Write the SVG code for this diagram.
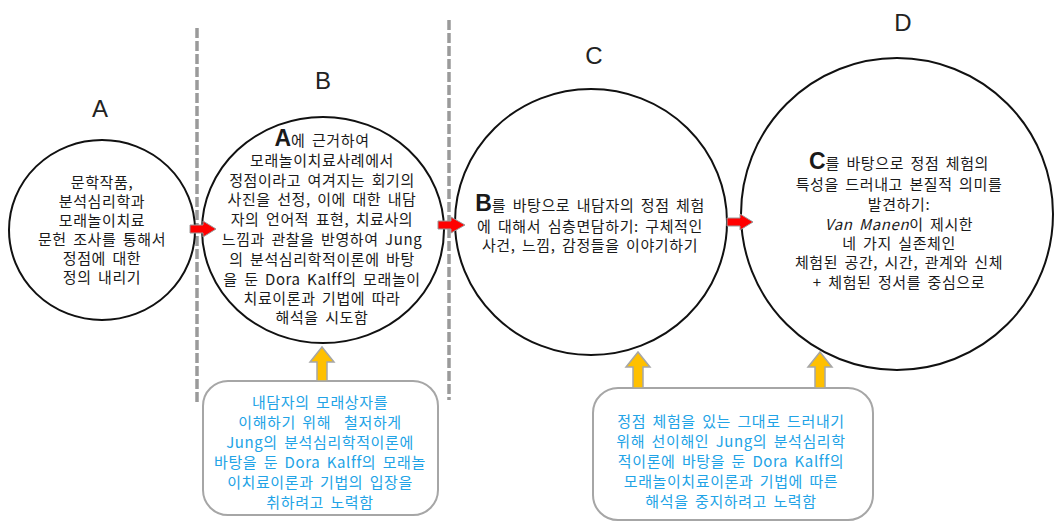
<svg xmlns="http://www.w3.org/2000/svg" width="1060" height="524" viewBox="0 0 1060 524">
<style>
.circ{fill:#fff;stroke:#111;stroke-width:2}
.t{font-family:"Noto Sans CJK KR","Liberation Sans",sans-serif;font-size:15px;letter-spacing:0.6px;word-spacing:2.5px;fill:#1a1a1a;text-anchor:middle}
.big{font-family:"Liberation Sans","Noto Sans CJK KR",sans-serif;font-size:23px;font-weight:bold;letter-spacing:0}
.lbl{font-family:"Liberation Sans Narrow","Liberation Sans",sans-serif;font-size:24px;fill:#222;text-anchor:middle}
.bt{font-family:"Noto Sans CJK KR","Liberation Sans",sans-serif;font-size:15px;letter-spacing:0.6px;word-spacing:2.5px;fill:#22a3e6;text-anchor:middle}
.box{fill:#fff;stroke:#a6a6a6;stroke-width:2}
.dash{stroke:#9a9a9a;stroke-width:3.5;stroke-dasharray:10 3;fill:none}
.red{fill:#ff0000;stroke:#9a9a9a;stroke-width:1}
.yel{fill:#ffc000;stroke:#a6a6a6;stroke-width:1.5}
</style>

<g id="dividers">
<line class="dash" x1="197" y1="28" x2="197" y2="405"/>
<line class="dash" x1="449" y1="20" x2="449" y2="400"/>
</g>

<g id="labels">
<text class="lbl" x="100" y="117">A</text>
<text class="lbl" x="323" y="89">B</text>
<text class="lbl" x="594" y="64">C</text>
<text class="lbl" x="903" y="31">D</text>
</g>

<g id="nodeA">
<ellipse class="circ" cx="102" cy="230" rx="93" ry="90"/>
<text class="t" x="102" y="188">문학작품,</text>
<text class="t" x="102" y="207">분석심리학과</text>
<text class="t" x="102" y="226">모래놀이치료</text>
<text class="t" x="102" y="245">문헌 조사를 통해서</text>
<text class="t" x="102" y="264">정점에 대한</text>
<text class="t" x="102" y="283">정의 내리기</text>
</g>

<g id="nodeB">
<ellipse class="circ" cx="323" cy="230" rx="121" ry="113"/>
<text class="t" x="322" y="146"><tspan class="big">A</tspan>에 근거하여</text>
<text class="t" x="322" y="166">모래놀이치료사례에서</text>
<text class="t" x="322" y="186">정점이라고 여겨지는 회기의</text>
<text class="t" x="322" y="205">사진을 선정, 이에 대한 내담</text>
<text class="t" x="322" y="225">자의 언어적 표현, 치료사의</text>
<text class="t" x="322" y="245">느낌과 관찰을 반영하여 Jung</text>
<text class="t" x="322" y="265">의 분석심리학적이론에 바탕</text>
<text class="t" x="322" y="285">을 둔 Dora Kalff의 모래놀이</text>
<text class="t" x="322" y="304">치료이론과 기법에 따라</text>
<text class="t" x="322" y="323">해석을 시도함</text>
</g>

<g id="nodeC">
<ellipse class="circ" cx="591" cy="222" rx="136" ry="133"/>
<text class="t" x="590" y="211"><tspan class="big">B</tspan>를 바탕으로 내담자의 정점 체험</text>
<text class="t" x="590" y="232">에 대해서 심층면담하기: 구체적인</text>
<text class="t" x="590" y="251">사건, 느낌, 감정들을 이야기하기</text>
</g>

<g id="nodeD">
<circle class="circ" cx="897" cy="214" r="156"/>
<text class="t" x="899" y="169"><tspan class="big">C</tspan>를 바탕으로 정점 체험의</text>
<text class="t" x="899" y="190">특성을 드러내고 본질적 의미를</text>
<text class="t" x="899" y="210">발견하기:</text>
<text class="t" x="899" y="230"><tspan font-style="italic">Van Manen</tspan>이 제시한</text>
<text class="t" x="899" y="249">네 가지 실존체인</text>
<text class="t" x="899" y="268">체험된 공간, 시간, 관계와 신체</text>
<text class="t" x="899" y="288">+ 체험된 정서를 중심으로</text>
</g>

<g id="note1">
<rect class="box" x="203" y="381" width="235" height="134" rx="25"/>
<text class="bt" x="320" y="408">내담자의 모래상자를</text>
<text class="bt" x="320" y="428" xml:space="preserve">이해하기 위해  철저하게</text>
<text class="bt" x="320" y="448">Jung의 분석심리학적이론에</text>
<text class="bt" x="320" y="468">바탕을 둔 Dora Kalff의 모래놀</text>
<text class="bt" x="320" y="488">이치료이론과 기법의 입장을</text>
<text class="bt" x="320" y="508">취하려고 노력함</text>
</g>

<g id="note2">
<rect class="box" x="593" y="388" width="280" height="132" rx="25"/>
<text class="bt" x="731" y="427">정점 체험을 있는 그대로 드러내기</text>
<text class="bt" x="731" y="447">위해 선이해인 Jung의 분석심리학</text>
<text class="bt" x="731" y="467">적이론에 바탕을 둔 Dora Kalff의</text>
<text class="bt" x="731" y="487">모래놀이치료이론과 기법에 따른</text>
<text class="bt" x="731" y="507">해석을 중지하려고 노력함</text>
</g>

<g id="connectors">
<path class="red" d="M190,225 L203,225 L203,221 L216,229 L203,237 L203,233 L190,233 Z"/>
<path class="red" d="M438,221 L451,221 L451,217 L465,225 L451,233 L451,229 L438,229 Z"/>
<path class="red" d="M727,218 L740,218 L740,214 L753,222 L740,230 L740,226 L727,226 Z"/>
<path class="yel" d="M317,381 L317,362 L310,362 L322,347 L334,362 L327,362 L327,381 Z"/>
<path class="yel" d="M633,388 L633,367 L626,367 L638,352 L650,367 L643,367 L643,388 Z"/>
<path class="yel" d="M815,388 L815,367 L808,367 L820,352 L832,367 L825,367 L825,388 Z"/>
</g>
</svg>
